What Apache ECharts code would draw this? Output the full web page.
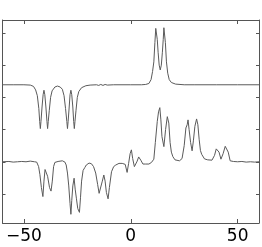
<!DOCTYPE html>
<html>
<head>
<meta charset="utf-8">
<script src="https://cdn.jsdelivr.net/npm/echarts@6/dist/echarts.min.js"></script>
<style>html,body{margin:0;padding:0;background:#fff}#c{width:262px;height:247px}</style>
</head>
<body>
<div id="c"></div>
<script>
var xTicks = [-50, 0, 50];
var yTicks = [0.9, 1.9, 2.9, 3.9, 4.9, 5.9];

var xUpper = [-60,-55,-50,-47,-45.5,-44.5,-43.7,-43,-42.6,-42.3,-42,-41.5,-41,-40.6,-40.2,-39.7,-39.2,-38.9,-38.6,-38.1,-37.5,-36.8,-35.5,-34.3,-33,-32,-31.2,-30.5,-29.9,-29.6,-29.3,-28.8,-28.4,-28,-27.6,-27.1,-26.7,-26.4,-26.1,-25.6,-25,-24.3,-23,-21,-19,-16,-15,-14,-13,-12,-11,-8,0,5,7,8.5,9.5,10.2,10.8,11.3,11.7,12,12.4,12.8,13.3,13.8,14.3,14.8,15.2,15.5,15.8,16.2,16.7,17.3,18,19,21,25,30,40,50,60];
var yUpper = [4.29,4.29,4.29,4.28,4.24,4.13,3.95,3.55,3.15,2.93,3.15,3.6,3.98,4.12,3.98,3.6,3.15,2.93,3.15,3.5,3.9,4.1,4.22,4.25,4.22,4.15,3.95,3.55,3.15,2.93,3.15,3.6,3.98,4.12,3.98,3.6,3.15,2.93,3.15,3.5,3.9,4.08,4.2,4.26,4.28,4.29,4.27,4.3,4.27,4.3,4.28,4.29,4.29,4.29,4.3,4.33,4.45,4.7,5.0,5.6,6.04,6.06,5.7,5.3,4.9,4.75,4.9,5.3,5.7,6.06,6.04,5.6,5.0,4.65,4.45,4.36,4.31,4.29,4.29,4.29,4.29,4.29];

var xLower = [-60,-57,-55,-53,-51,-49,-47,-45,-44,-43.1,-42.5,-41.8,-41.1,-40.6,-40.1,-39.6,-38.9,-38,-37.3,-36.7,-36.1,-35.5,-34,-32,-30.8,-30.2,-29.6,-29,-28.4,-28,-27.6,-27.1,-26.5,-26,-25.4,-24.8,-24,-23.5,-23,-22.3,-21.5,-20.8,-19.5,-18.4,-17.4,-16.4,-15.5,-14.8,-14.4,-13.9,-13.3,-12.6,-12,-11.4,-10.6,-10,-9,-8,-7,-5.5,-4,-2.6,-1.7,-1,-0.3,0.3,0.9,1.7,2.3,3,3.7,4.2,4.7,5.7,7,8.5,9.7,10.8,11.5,12.4,13,13.6,14.1,14.6,15.5,16.3,17.1,17.8,18.4,19,19.7,20.7,22.8,24,25,25.8,26.4,26.8,27.3,28,28.7,29.3,30,30.8,31.4,32,32.6,33.2,34.5,36,38,39.2,40,40.6,41.3,42.2,43.2,44.2,45,45.6,46.5,48,50,52,54,56,58,60];
var yLower = [1.9,1.91,1.89,1.9,1.91,1.9,1.92,1.9,1.89,1.75,1.5,1.1,0.82,1.3,1.66,1.65,1.45,1.1,0.99,1.3,1.75,1.88,1.91,1.93,1.89,1.8,1.55,1.15,0.6,0.27,0.7,1.15,1.39,1.05,0.75,0.45,0.33,0.8,1.3,1.63,1.72,1.8,1.86,1.84,1.75,1.55,1.2,0.92,0.87,0.95,1.3,1.49,1.3,0.95,0.75,1.1,1.59,1.75,1.8,1.85,1.85,1.82,1.57,1.85,2.15,2.27,2.0,1.75,1.7,1.92,2.05,2.11,1.95,1.83,1.83,1.83,1.88,1.98,2.5,3.15,3.45,3.58,3.2,2.68,2.37,2.9,3.3,3.1,2.5,2.2,2.06,1.96,1.93,2.0,2.4,2.95,3.05,3.2,2.9,2.5,2.24,2.55,3.0,3.23,3.05,2.6,2.25,2.13,1.99,1.96,1.95,2.1,2.3,2.35,2.2,1.98,2.15,2.38,2.42,2.2,1.93,1.91,1.9,1.91,1.89,1.9,1.89,1.9];

function zip(xs, ys) { return xs.map(function (x, i) { return [x, ys[i]]; }); }

var axisCol = '#555';
var chart = echarts.init(document.getElementById('c'), null, {renderer: 'canvas'});
chart.setOption({
  animation: false,
  grid: {left: 2.5, right: 3, top: 20, bottom: 24},
  xAxis: [
    {type: 'value', position: 'bottom', min: -60, max: 60,
     axisLine: {show: true, onZero: false, lineStyle: {color: axisCol, width: 1}},
     axisTick: {show: true, inside: true, length: 4, customValues: xTicks, lineStyle: {color: axisCol}},
     axisLabel: {show: true, customValues: xTicks, color: '#000', fontSize: 17, fontFamily: 'DejaVu Sans, sans-serif', margin: 5,
       formatter: function (v) { return v < 0 ? '\u2212' + Math.abs(v) : String(v); }},
     splitLine: {show: false}},
    {type: 'value', position: 'top', min: -60, max: 60,
     axisLine: {show: true, onZero: false, lineStyle: {color: axisCol, width: 1}},
     axisTick: {show: true, inside: true, length: 4, customValues: xTicks, lineStyle: {color: axisCol}},
     axisLabel: {show: false}, splitLine: {show: false}}
  ],
  yAxis: [
    {type: 'value', position: 'left', min: 0, max: 6.3,
     axisLine: {show: true, onZero: false, lineStyle: {color: axisCol, width: 1}},
     axisTick: {show: true, inside: true, length: 3, customValues: yTicks, lineStyle: {color: axisCol}},
     axisLabel: {show: false}, splitLine: {show: false}},
    {type: 'value', position: 'right', min: 0, max: 6.3,
     axisLine: {show: true, onZero: false, lineStyle: {color: axisCol, width: 1}},
     axisTick: {show: true, inside: true, length: 3, customValues: yTicks, lineStyle: {color: axisCol}},
     axisLabel: {show: false}, splitLine: {show: false}}
  ],
  series: [
    {type: 'line', data: zip(xUpper, yUpper), showSymbol: false, lineStyle: {color: '#5a5a5a', width: 1}},
    {type: 'line', data: zip(xLower, yLower), showSymbol: false, lineStyle: {color: '#5a5a5a', width: 1}}
  ]
});
</script>
</body>
</html>
